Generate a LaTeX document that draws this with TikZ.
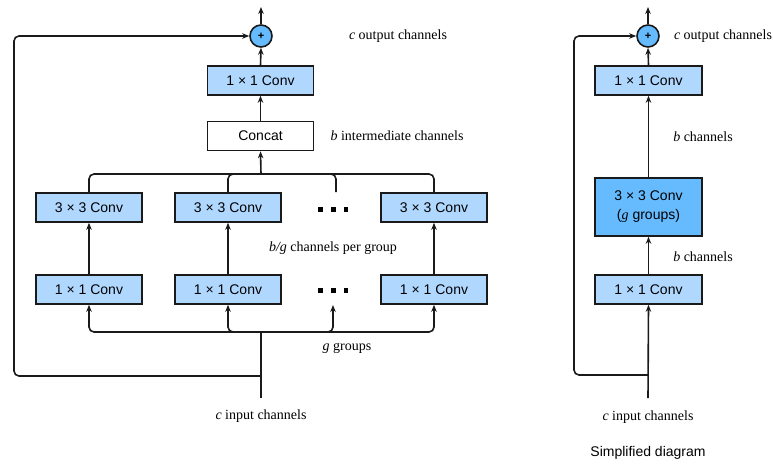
\documentclass[tikz,border=0pt]{standalone}
\usepackage{fontspec}
\setmainfont{Liberation Serif}
\setsansfont{Liberation Sans}
\usetikzlibrary{arrows.meta}
\definecolor{lightb}{HTML}{B0D8FF}
\definecolor{darkb}{HTML}{66BBFF}
\definecolor{edge}{HTML}{1A1A1A}
\begin{document}
\begin{tikzpicture}[x=1pt,y=-1pt,
  line width=1.6pt,
  arr/.style={draw=edge,line width=1.6pt,-{Stealth[length=7pt,width=5.5pt]}},
  ln/.style={draw=edge,line width=1.6pt},
  convbox/.style={draw=edge,line width=1.6pt,fill=lightb,minimum width=106pt,minimum height=29pt,inner sep=0pt,font=\sffamily\fontsize{14}{17}\selectfont},
  whitebox/.style={convbox,fill=white},
  bigbox/.style={convbox,fill=darkb,minimum height=58pt,align=center},
  plusc/.style={circle,draw=edge,line width=1.6pt,fill=darkb,minimum size=22pt,inner sep=0pt,font=\sffamily\bfseries\fontsize{11}{12}\selectfont},
  lab/.style={font=\fontsize{14}{17}\selectfont,inner sep=0pt},
  sqdot/.style={fill=black,minimum size=4.5pt,inner sep=0pt}]
\useasboundingbox (0,0) rectangle (773,463);

% ---------- left diagram ----------
\node[plusc] (plusL) at (261,36) {+};
\coordinate (outL) at (261,7);
\node[convbox] (convTop) at (260.5,80.5) {1 × 1 Conv};
\node[whitebox] (concat) at (260.5,136) {Concat};

\node[convbox] (gA) at (89,207.5) {3 × 3 Conv};
\node[convbox] (gB) at (228,207.5) {3 × 3 Conv};
\node[convbox] (gC) at (434,207.5) {3 × 3 Conv};
\node[convbox] (hA) at (89,289.5) {1 × 1 Conv};
\node[convbox] (hB) at (228,289.5) {1 × 1 Conv};
\node[convbox] (hC) at (434,289.5) {1 × 1 Conv};

\node[sqdot] (da1) at (320.7,209.5) {};
\node[sqdot] (da2) at (333.3,209.5) {};
\node[sqdot] (da3) at (346,209.5) {};
\node[sqdot] (db1) at (320.7,290.5) {};
\node[sqdot] (db2) at (333.3,290.5) {};
\node[sqdot] (db3) at (346,290.5) {};

\coordinate (jtop) at (261,174);
\coordinate (dotTop) at (336,192);
\coordinate (jbot) at (261,332);
\coordinate (dotBot) at (333,305);
\coordinate (inL) at (261,398);
\coordinate (skipL) at (261,376);
\coordinate (cornerL) at (14,376);

\draw[ln,rounded corners=5pt] (gA.north) |- (jtop) -| (gC.north);
\draw[ln,rounded corners=5pt] (gB.north) |- (jtop) -| (dotTop);
\draw[arr] (jtop) -- (concat.south);
\draw[arr] (concat.north) -- (convTop.south);
\draw[arr] (convTop.north) -- (plusL.south);
\draw[arr] (plusL.north) -- (outL);

\draw[arr] (hA.north) -- (gA.south);
\draw[arr] (hB.north) -- (gB.south);
\draw[arr] (hC.north) -- (gC.south);

\draw[ln] (inL) -- (jbot);
\draw[arr,rounded corners=5pt] (jbot) -| (hA.south);
\draw[arr,rounded corners=5pt] (jbot) -| (hB.south);
\draw[arr,rounded corners=5pt] (jbot) -| (hC.south);
\draw[arr,rounded corners=5pt] (jbot) -| (dotBot);
\draw[arr,rounded corners=5pt] (skipL) -- (cornerL) |- (plusL.west);

\node[lab] (outlabL) at (398,36) {\textit{c} output channels};
\node[lab] (intlab) at (397,136) {\textit{b} intermediate channels};
\node[lab] (bglab) at (333,248) {\textit{b/g} channels per group};
\node[lab] (gglab) at (347,348) {\textit{g} groups};
\node[lab] (inlabL) at (261,416) {\textit{c} input channels};

% ---------- right diagram ----------
\node[plusc] (plusR) at (648,36) {+};
\coordinate (outR) at (648,7);
\node[convbox,minimum width=107pt] (rA) at (648.5,80.5) {1 × 1 Conv};
\node[bigbox,minimum width=107pt] (rB) at (648.5,207) {3 × 3 Conv\\[2pt](\textrm{\textit{g}} groups)};
\node[convbox,minimum width=107pt] (rC) at (648.5,289.5) {1 × 1 Conv};
\coordinate (inR) at (648,398);
\coordinate (skipR) at (648,375);
\coordinate (cornerR) at (574,375);

\draw[arr] (plusR.north) -- (outR);
\draw[arr] (rA.north) -- (plusR.south);
\draw[arr] (rB.north) -- (rA.south);
\draw[arr] (rC.north) -- (rB.south);
\draw[arr] (inR) -- (rC.south);
\draw[arr,rounded corners=5pt] (skipR) -- (cornerR) |- (plusR.west);

\node[lab] (outlabR) at (723,36) {\textit{c} output channels};
\node[lab] (bch1) at (703,137) {\textit{b} channels};
\node[lab] (bch2) at (703,257) {\textit{b} channels};
\node[lab] (inlabR) at (648,417) {\textit{c} input channels};
\node[lab,font=\sffamily\fontsize{14}{17}\selectfont] (simp) at (648,453) {Simplified diagram};
\end{tikzpicture}
\end{document}
